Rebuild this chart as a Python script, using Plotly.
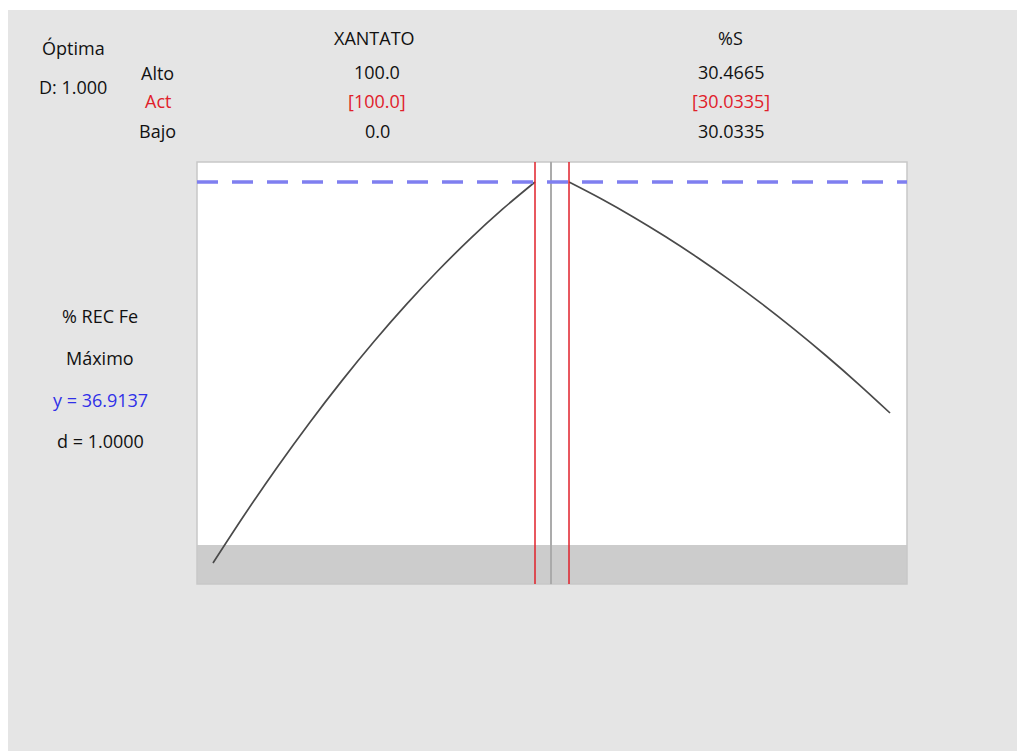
import plotly.graph_objects as go

# Data
xantato = [0, 10, 20, 30, 40, 50, 60, 70, 80, 90, 100]
rec_vs_xantato = [21.674, 23.644, 25.515, 27.287, 28.960, 30.534, 32.008, 33.383, 34.659, 35.836, 36.914]
pct_s = [30.0335, 30.0768, 30.1201, 30.1634, 30.2067, 30.2500, 30.2933, 30.3366, 30.3799, 30.4232, 30.4665]
rec_vs_s = [36.914, 36.244, 35.517, 34.734, 33.895, 32.999, 32.047, 31.038, 29.973, 28.852, 27.674]

y_opt = 36.9137
lower_bound = 22.394
y_range = [20.834, 37.714]
x1_range = [-4.97, 104.97]
x2_range = [30.0092, 30.4894]
act_xantato = 100.0
act_s = 30.0335

W, H = 1017, 751
dom1 = [197 / W, 551 / W]
dom2 = [551 / W, 907 / W]
ydom = [1 - 584 / H, 1 - 162 / H]

FONT = "Open Sans"
FS = 18
RED = "#e0202a"
BLUE = "#3030e8"
CURVE = "#4a4a4a"

fig = go.Figure()
fig.add_trace(go.Scatter(x=xantato, y=rec_vs_xantato, mode="lines", line=dict(color=CURVE, width=1.7, shape="spline"),
                         xaxis="x", yaxis="y", showlegend=False, hoverinfo="skip"))
fig.add_trace(go.Scatter(x=pct_s, y=rec_vs_s, mode="lines", line=dict(color=CURVE, width=1.7, shape="spline"),
                         xaxis="x2", yaxis="y2", showlegend=False, hoverinfo="skip"))

shapes = []
# page background
shapes.append(dict(type="rect", xref="paper", yref="paper", x0=8 / W, x1=1, y0=0, y1=1 - 10 / H,
                   fillcolor="#e5e5e5", line=dict(width=0), layer="below"))
# white plot areas
for xr, yr in (("x domain", "y domain"), ("x2 domain", "y2 domain")):
    shapes.append(dict(type="rect", xref=xr, yref=yr, x0=0, x1=1, y0=0, y1=1,
                       fillcolor="white", line=dict(width=0), layer="below"))
# gray band below the lower bound
for xr, yr in (("x domain", "y"), ("x2 domain", "y2")):
    shapes.append(dict(type="rect", xref=xr, yref=yr, x0=0, x1=1, y0=y_range[0], y1=lower_bound,
                       fillcolor="#cccccc", line=dict(width=0), layer="below"))
# panel borders
for xr, yr in (("x domain", "y domain"), ("x2 domain", "y2 domain")):
    shapes.append(dict(type="rect", xref=xr, yref=yr, x0=0, x1=1, y0=0, y1=1,
                       line=dict(color="#c8c8c8", width=1.5), layer="above"))
# divider between panels
shapes.append(dict(type="line", xref="x domain", yref="y domain", x0=1, x1=1, y0=0, y1=1,
                   line=dict(color="#a0a0a0", width=1.5), layer="above"))
# dashed optimum response line
shapes.append(dict(type="line", xref="paper", yref="y", x0=dom1[0], x1=dom2[1], y0=y_opt, y1=y_opt,
                   line=dict(color="#7f7ff0", width=3.5, dash="21px,14px"), layer="above"))
# current settings
shapes.append(dict(type="line", xref="x", yref="y domain", x0=act_xantato, x1=act_xantato, y0=0, y1=1,
                   line=dict(color=RED, width=1.5), layer="above"))
shapes.append(dict(type="line", xref="x2", yref="y2 domain", x0=act_s, x1=act_s, y0=0, y1=1,
                   line=dict(color=RED, width=1.5), layer="above"))

def ann(text, x, y, color="#111111"):
    return dict(text=text, xref="paper", yref="paper", x=x / W, y=1 - y / H, showarrow=False,
                xanchor="center", yanchor="middle", font=dict(family=FONT, size=FS, color=color))

annotations = [
    ann("Óptima", 73, 48),
    ann("D: 1.000", 73, 87),
    ann("Alto", 157, 73),
    ann("Act", 158, 101, RED),
    ann("Bajo", 157, 131),
    ann("XANTATO", 374, 38),
    ann(f"{max(xantato):.1f}", 377, 72),
    ann(f"[{act_xantato:.1f}]", 377, 101, RED),
    ann(f"{min(xantato):.1f}", 377, 131),
    ann("%S", 730, 38),
    ann(f"{max(pct_s):.4f}", 731, 72),
    ann(f"[{act_s:.4f}]", 731, 101, RED),
    ann(f"{min(pct_s):.4f}", 731, 131),
    ann("% REC Fe", 100, 316),
    ann("Máximo", 100, 358),
    ann(f"y = {y_opt:.4f}", 100, 400, BLUE),
    ann("d = 1.0000", 100, 441),
]

hidden = dict(showgrid=False, zeroline=False, showticklabels=False, ticks="", showline=False, fixedrange=True)
fig.update_layout(
    width=W, height=H, margin=dict(l=0, r=0, t=0, b=0),
    paper_bgcolor="white", plot_bgcolor="white",
    xaxis=dict(domain=dom1, range=x1_range, **hidden),
    xaxis2=dict(domain=dom2, range=x2_range, anchor="y2", **hidden),
    yaxis=dict(domain=ydom, range=y_range, **hidden),
    yaxis2=dict(domain=ydom, range=y_range, anchor="x2", **hidden),
    shapes=shapes, annotations=annotations, showlegend=False,
)
fig.write_html("out.html")
